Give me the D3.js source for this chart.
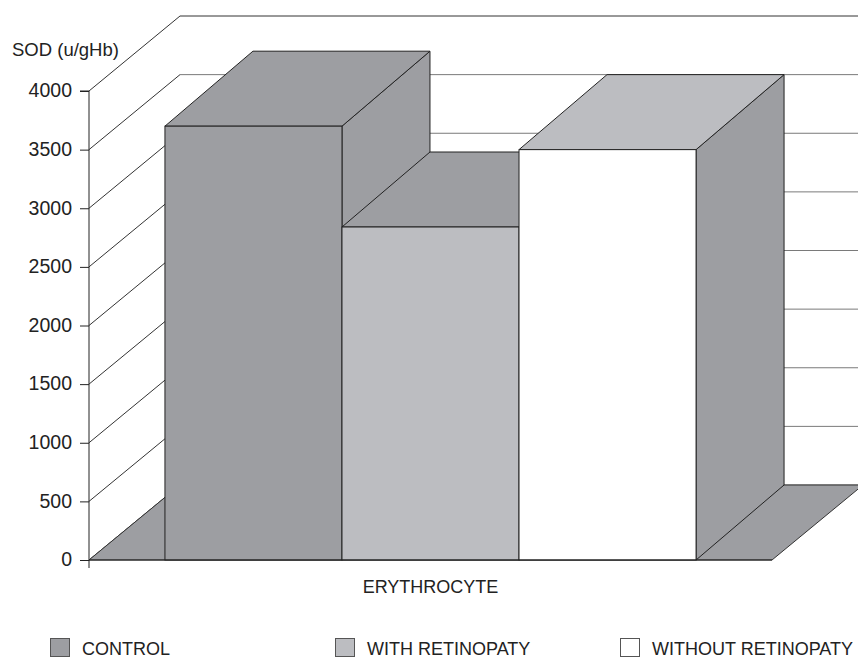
<!DOCTYPE html>
<html>
<head>
<meta charset="utf-8">
<script src="https://cdn.jsdelivr.net/npm/d3@7"></script>
<style>
  html, body { margin: 0; padding: 0; background: #fff; }
  svg { display: block; }
  text { font-family: "Liberation Sans", Arial, sans-serif; fill: #222; }
</style>
</head>
<body>
<svg id="chart" width="858" height="660"></svg>
<script>
const categories = ["ERYTHROCYTE"];
const seriesNames = ["CONTROL", "WITH RETINOPATY", "WITHOUT RETINOPATY"];
const seriesValues = [3700, 2840, 3500];
const yTicks = [0, 500, 1000, 1500, 2000, 2500, 3000, 3500, 4000];
const yLabel = "SOD (u/gHb)";
const frontColors = ["#9d9ea2", "#bcbdc1", "#ffffff"];
const topColors = ["#9d9ea2", "#9d9ea2", "#bcbdc1"];
const sideColors = ["#9d9ea2", "#9d9ea2", "#9d9ea2"];
const legendColors = ["#9d9ea2", "#bcbdc1", "#ffffff"];

const svg = d3.select("#chart");
const plotL = 89, plotR = 772, plotB = 560, plotT = 91;
const WDX = 91, WDY = -75;   // wall depth
const BDX = 88, BDY = -75;   // bar depth
const ink = "#222";

const y = d3.scaleLinear().domain([0, 4000]).range([plotB, plotT]);
const x0 = d3.scaleBand().domain(categories).range([plotL, plotR]).paddingInner(0).paddingOuter(0.143);
const x1 = d3.scaleBand().domain(seriesNames).range([0, x0.bandwidth()]).padding(0);

const poly = pts => "M" + pts.map(p => p.join(",")).join("L") + "Z";

// back wall gridlines
const g = svg.append("g");
g.selectAll("line.back").data(yTicks).enter().append("line")
  .attr("x1", plotL + WDX).attr("x2", plotR + WDX + 10)
  .attr("y1", d => y(d) + WDY).attr("y2", d => y(d) + WDY)
  .attr("stroke", d => d === 4000 ? "#333" : "#7a7a7a").attr("stroke-width", 1);
// side wall gridlines
g.selectAll("line.side").data(yTicks).enter().append("line")
  .attr("x1", plotL).attr("x2", plotL + WDX)
  .attr("y1", d => y(d)).attr("y2", d => y(d) + WDY)
  .attr("stroke", "#333").attr("stroke-width", 1);

// floor
g.append("path")
  .attr("d", poly([[plotL, plotB], [plotR, plotB], [plotR + WDX, plotB + WDY], [plotL + WDX, plotB + WDY]]))
  .attr("fill", "#9d9ea2").attr("stroke", "#333").attr("stroke-width", 1);

// bars
const cat = categories[0];
seriesNames.forEach((s, i) => {
  const xa = x0(cat) + x1(s), xb = xa + x1.bandwidth();
  const yt = y(seriesValues[i]), yb = y(0);
  const bg = svg.append("g");
  bg.append("path")
    .attr("d", poly([[xb, yt], [xb + BDX, yt + BDY], [xb + BDX, yb + BDY], [xb, yb]]))
    .attr("fill", sideColors[i]).attr("stroke", ink).attr("stroke-width", 1).attr("stroke-linejoin", "round");
  bg.append("path")
    .attr("d", poly([[xa, yt], [xb, yt], [xb + BDX, yt + BDY], [xa + BDX, yt + BDY]]))
    .attr("fill", topColors[i]).attr("stroke", ink).attr("stroke-width", 1).attr("stroke-linejoin", "round");
  bg.append("rect")
    .attr("x", xa).attr("y", yt).attr("width", xb - xa).attr("height", yb - yt)
    .attr("fill", frontColors[i]).attr("stroke", ink).attr("stroke-width", 1);
});

// y axis
const yAxis = d3.axisLeft(y).tickValues(yTicks).tickSize(9).tickPadding(8).tickFormat(d3.format("d"));
const ga = svg.append("g").attr("transform", `translate(${plotL},0)`).call(yAxis);
ga.select(".domain").attr("stroke", ink).attr("d", `M-9,${plotT}H0V${plotB + 8}`);
ga.selectAll(".tick line").attr("stroke", ink);
ga.selectAll(".tick text").attr("font-size", "19.5px").attr("fill", "#222")
  .attr("font-family", "'Liberation Sans', Arial, sans-serif").attr("dy", "0.3em");

// x axis line
svg.append("line").attr("x1", plotL).attr("x2", plotR).attr("y1", plotB).attr("y2", plotB)
  .attr("stroke", ink).attr("stroke-width", 1.2);

// labels
svg.append("text").attr("x", 12).attr("y", 56).attr("font-size", "18.5px").text(yLabel);
svg.append("text").attr("x", x0(cat) + x0.bandwidth() / 2).attr("y", 593)
  .attr("text-anchor", "middle").attr("font-size", "18px").text(cat);

// legend
const legendX = [50, 335, 620];
seriesNames.forEach((s, i) => {
  svg.append("rect").attr("x", legendX[i] + 0.5).attr("y", 638.5).attr("width", 19).attr("height", 18)
    .attr("fill", legendColors[i]).attr("stroke", "#555").attr("stroke-width", 1);
  svg.append("text").attr("x", legendX[i] + 32).attr("y", 655).attr("font-size", "18px").text(s);
});
</script>
</body>
</html>
